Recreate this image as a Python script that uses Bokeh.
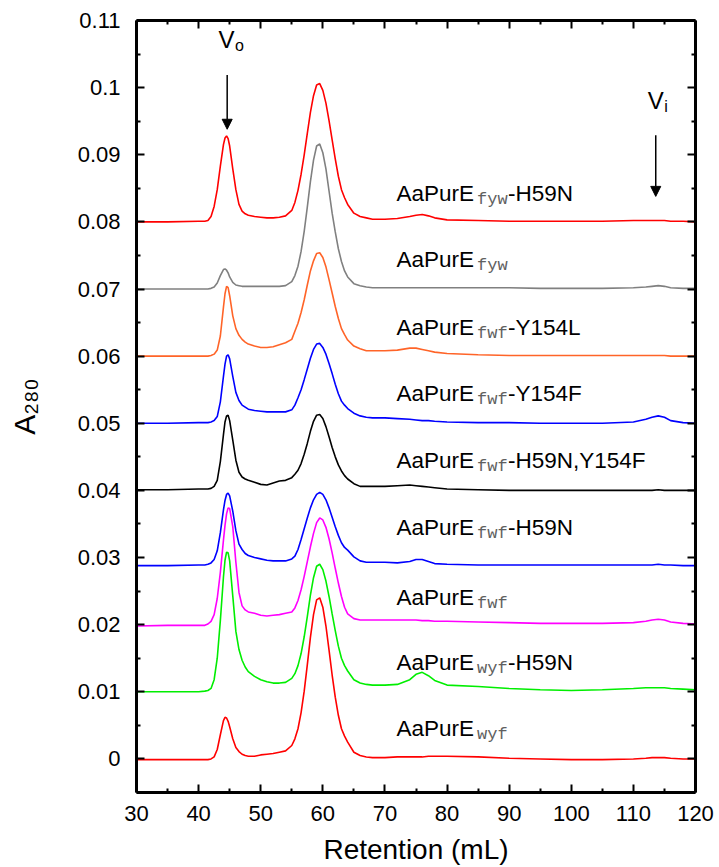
import math
from bokeh.plotting import figure
from bokeh.models import (Range1d, FixedTicker, LinearAxis, CustomJSTickFormatter,
                          Label, Arrow, NormalHead, ColumnDataSource)
from bokeh.core.properties import value
from bokeh.embed import file_html
from bokeh.resources import INLINE

# ---------------- data ----------------
retention = [30, 35, 40, 41, 41.5, 42, 42.5, 43, 43.5, 44, 44.25, 44.5, 44.75, 45, 45.5, 46, 46.5, 47, 47.5, 48,
             49, 50, 51, 52, 53, 54, 55, 55.5, 56, 56.5, 57, 57.5, 58, 58.5, 59, 59.5, 60, 60.5, 61, 61.5,
             62, 62.5, 63, 63.5, 64, 65, 66, 67, 68, 70, 72, 74, 75, 76, 77, 78, 80, 85, 90, 95,
             100, 105, 110, 112, 113, 114, 115, 116, 118, 120]

a_wyf = [-0.0001, -0.0001, -0.0001, -0.0001, -0.0001, 0.0000, 0.0003, 0.0014, 0.0036, 0.0057, 0.0062, 0.0061, 0.0056, 0.0048, 0.0030, 0.0017, 0.0011, 0.0007, 0.0005, 0.0004,
         0.0004, 0.0006, 0.0007, 0.0008, 0.0010, 0.0012, 0.0020, 0.0030, 0.0045, 0.0069, 0.0101, 0.0140, 0.0181, 0.0215, 0.0237, 0.0240, 0.0226, 0.0198, 0.0162, 0.0125,
         0.0092, 0.0065, 0.0045, 0.0034, 0.0025, 0.0010, 0.0005, 0.0003, 0.0002, 0.0002, 0.0003, 0.0003, 0.0003, 0.0003, 0.0004, 0.0004, 0.0004, 0.0003, 0.0001, 0.0000,
         -0.0001, -0.0001, 0.0000, 0.0001, 0.0002, 0.0002, 0.0002, 0.0001, 0.0000, 0.0000]

a_wyf_h59n = [0.0100, 0.0100, 0.0100, 0.0101, 0.0102, 0.0105, 0.0118, 0.0150, 0.0206, 0.0271, 0.0296, 0.0308, 0.0307, 0.0295, 0.0243, 0.0190, 0.0163, 0.0147, 0.0137, 0.0130,
              0.0123, 0.0118, 0.0115, 0.0113, 0.0113, 0.0114, 0.0120, 0.0127, 0.0139, 0.0157, 0.0182, 0.0212, 0.0244, 0.0270, 0.0287, 0.0290, 0.0282, 0.0265, 0.0242, 0.0216,
              0.0191, 0.0168, 0.0150, 0.0139, 0.0131, 0.0118, 0.0113, 0.0111, 0.0110, 0.0110, 0.0111, 0.0118, 0.0126, 0.0129, 0.0124, 0.0117, 0.0110, 0.0108, 0.0105, 0.0103,
              0.0102, 0.0103, 0.0105, 0.0106, 0.0106, 0.0106, 0.0106, 0.0105, 0.0104, 0.0103]

a_fwf = [0.0198, 0.0199, 0.0199, 0.0199, 0.0201, 0.0205, 0.0215, 0.0239, 0.0278, 0.0326, 0.0348, 0.0365, 0.0374, 0.0373, 0.0346, 0.0293, 0.0248, 0.0228, 0.0222, 0.0219,
         0.0217, 0.0214, 0.0213, 0.0214, 0.0215, 0.0217, 0.0219, 0.0225, 0.0236, 0.0252, 0.0272, 0.0294, 0.0316, 0.0336, 0.0352, 0.0359, 0.0356, 0.0345, 0.0328, 0.0307,
         0.0284, 0.0262, 0.0242, 0.0226, 0.0216, 0.0209, 0.0207, 0.0207, 0.0207, 0.0207, 0.0207, 0.0207, 0.0207, 0.0206, 0.0206, 0.0205, 0.0205, 0.0204, 0.0203, 0.0202,
         0.0202, 0.0202, 0.0203, 0.0205, 0.0207, 0.0208, 0.0207, 0.0204, 0.0202, 0.0201]

a_fwf_h59n = [0.0288, 0.0288, 0.0289, 0.0289, 0.0290, 0.0292, 0.0297, 0.0310, 0.0337, 0.0371, 0.0385, 0.0394, 0.0396, 0.0392, 0.0369, 0.0340, 0.0320, 0.0312, 0.0306, 0.0303,
              0.0300, 0.0298, 0.0296, 0.0295, 0.0295, 0.0295, 0.0298, 0.0302, 0.0312, 0.0327, 0.0343, 0.0359, 0.0374, 0.0386, 0.0394, 0.0397, 0.0394, 0.0386, 0.0374, 0.0360,
              0.0346, 0.0333, 0.0322, 0.0315, 0.0311, 0.0301, 0.0295, 0.0293, 0.0293, 0.0293, 0.0292, 0.0294, 0.0297, 0.0297, 0.0294, 0.0291, 0.0290, 0.0289, 0.0289, 0.0289,
              0.0289, 0.0289, 0.0289, 0.0289, 0.0289, 0.0290, 0.0289, 0.0289, 0.0288, 0.0288]

a_fwf_h59n_y154f = [0.0401, 0.0401, 0.0402, 0.0402, 0.0402, 0.0403, 0.0406, 0.0415, 0.0443, 0.0483, 0.0502, 0.0511, 0.0512, 0.0504, 0.0475, 0.0445, 0.0427, 0.0420, 0.0417, 0.0415,
                    0.0412, 0.0409, 0.0408, 0.0411, 0.0414, 0.0415, 0.0419, 0.0424, 0.0430, 0.0440, 0.0454, 0.0470, 0.0488, 0.0503, 0.0512, 0.0513, 0.0507, 0.0495, 0.0480, 0.0464,
                    0.0450, 0.0438, 0.0429, 0.0422, 0.0417, 0.0410, 0.0406, 0.0406, 0.0406, 0.0406, 0.0407, 0.0408, 0.0407, 0.0406, 0.0405, 0.0404, 0.0402, 0.0401, 0.0400, 0.0400,
                    0.0400, 0.0400, 0.0400, 0.0400, 0.0400, 0.0401, 0.0400, 0.0400, 0.0400, 0.0400]

a_fwf_y154f = [0.0500, 0.0500, 0.0501, 0.0501, 0.0501, 0.0502, 0.0504, 0.0510, 0.0532, 0.0570, 0.0588, 0.0600, 0.0602, 0.0596, 0.0570, 0.0546, 0.0534, 0.0527, 0.0524, 0.0521,
               0.0519, 0.0518, 0.0517, 0.0517, 0.0517, 0.0517, 0.0520, 0.0527, 0.0538, 0.0550, 0.0565, 0.0581, 0.0597, 0.0610, 0.0618, 0.0619, 0.0613, 0.0603, 0.0589, 0.0574,
               0.0558, 0.0544, 0.0533, 0.0527, 0.0522, 0.0515, 0.0511, 0.0509, 0.0508, 0.0508, 0.0507, 0.0506, 0.0505, 0.0504, 0.0504, 0.0503, 0.0502, 0.0501, 0.0501, 0.0500,
               0.0500, 0.0500, 0.0502, 0.0506, 0.0509, 0.0511, 0.0509, 0.0504, 0.0501, 0.0500]

a_fwf_y154l = [0.0600, 0.0600, 0.0600, 0.0600, 0.0600, 0.0601, 0.0603, 0.0609, 0.0630, 0.0673, 0.0693, 0.0704, 0.0702, 0.0690, 0.0660, 0.0641, 0.0631, 0.0625, 0.0621, 0.0618,
               0.0615, 0.0613, 0.0613, 0.0614, 0.0617, 0.0620, 0.0625, 0.0637, 0.0649, 0.0665, 0.0684, 0.0706, 0.0727, 0.0742, 0.0753, 0.0754, 0.0747, 0.0733, 0.0714, 0.0694,
               0.0674, 0.0656, 0.0641, 0.0632, 0.0624, 0.0615, 0.0611, 0.0608, 0.0608, 0.0608, 0.0609, 0.0612, 0.0612, 0.0610, 0.0608, 0.0606, 0.0604, 0.0602, 0.0601, 0.0601,
               0.0601, 0.0601, 0.0601, 0.0601, 0.0601, 0.0601, 0.0601, 0.0600, 0.0600, 0.0600]

a_fyw = [0.0700, 0.0700, 0.0700, 0.0700, 0.0700, 0.0701, 0.0703, 0.0709, 0.0720, 0.0729, 0.0730, 0.0728, 0.0724, 0.0718, 0.0710, 0.0706, 0.0705, 0.0704, 0.0704, 0.0704,
         0.0704, 0.0704, 0.0704, 0.0704, 0.0704, 0.0705, 0.0711, 0.0720, 0.0734, 0.0756, 0.0786, 0.0822, 0.0860, 0.0892, 0.0913, 0.0916, 0.0903, 0.0879, 0.0846, 0.0813,
         0.0785, 0.0760, 0.0741, 0.0727, 0.0718, 0.0708, 0.0705, 0.0703, 0.0702, 0.0702, 0.0702, 0.0702, 0.0702, 0.0702, 0.0702, 0.0702, 0.0702, 0.0702, 0.0702, 0.0701,
         0.0701, 0.0701, 0.0702, 0.0703, 0.0704, 0.0705, 0.0704, 0.0702, 0.0701, 0.0701]

a_fyw_h59n = [0.0800, 0.0800, 0.0801, 0.0801, 0.0802, 0.0808, 0.0823, 0.0848, 0.0883, 0.0915, 0.0925, 0.0928, 0.0924, 0.0913, 0.0879, 0.0848, 0.0826, 0.0816, 0.0812, 0.0810,
              0.0808, 0.0807, 0.0806, 0.0806, 0.0807, 0.0809, 0.0817, 0.0829, 0.0847, 0.0871, 0.0900, 0.0932, 0.0963, 0.0988, 0.1004, 0.1006, 0.0996, 0.0977, 0.0951, 0.0922,
              0.0894, 0.0868, 0.0848, 0.0836, 0.0826, 0.0813, 0.0808, 0.0806, 0.0804, 0.0804, 0.0805, 0.0808, 0.0810, 0.0811, 0.0809, 0.0806, 0.0803, 0.0802, 0.0801, 0.0801,
              0.0801, 0.0801, 0.0802, 0.0802, 0.0802, 0.0802, 0.0802, 0.0801, 0.0801, 0.0800]

series = [a_wyf, a_wyf_h59n, a_fwf, a_fwf_h59n, a_fwf_h59n_y154f, a_fwf_y154f, a_fwf_y154l, a_fyw, a_fyw_h59n]
colors = ["#ff0000", "#00ee00", "#ff00ff", "#0000ff", "#000000", "#0000ff", "#ff6428", "#808080", "#ff0000"]

label_main = ["AaPurE"] * 9
label_sub = ["wyf", "wyf", "fwf", "fwf", "fwf", "fwf", "fwf", "fyw", "fyw"]
label_suffix = ["", "-H59N", "", "-H59N", "-H59N,Y154F", "-Y154F", "-Y154L", "", "-H59N"]
label_x = [71.86] * 9
label_y = [0.0033, 0.0132, 0.0229, 0.0333, 0.0433, 0.0532, 0.0631, 0.0732, 0.0830]

x_ticks = [30, 40, 50, 60, 70, 80, 90, 100, 110, 120]
x_tick_labels = ["30", "40", "50", "60", "70", "80", "90", "100", "110", "120"]
x_minor = [35, 45, 55, 65, 75, 85, 95, 105, 115]
y_ticks = [0, 0.01, 0.02, 0.03, 0.04, 0.05, 0.06, 0.07, 0.08, 0.09, 0.1, 0.11]
y_tick_labels = ["0", "0.01", "0.02", "0.03", "0.04", "0.05", "0.06", "0.07", "0.08", "0.09", "0.1", "0.11"]
y_minor = [-0.005, 0.005, 0.015, 0.025, 0.035, 0.045, 0.055, 0.065, 0.075, 0.085, 0.095, 0.105]

x_title = "Retention (mL)"
y_title = "A\u2082\u2088\u2080"

# markers Vo / Vi : arrow x, arrow top, arrow tip, text x, text baseline
marker_names = ["o", "i"]
marker_x = [44.6, 113.6]
marker_top = [0.1019, 0.0929]
marker_tip = [0.0938, 0.0838]
marker_text_x = [43.2, 112.3]
marker_text_y = [0.1060, 0.0969]

FONT = "Liberation Sans"
TEXT_SHIFT = 8  # px correction of the text baseline

p = figure(width=719, height=867, x_range=Range1d(30, 120), y_range=Range1d(-0.005, 0.11),
           output_backend="svg", toolbar_location=None,
           min_border_left=136, min_border_right=24, min_border_top=20, min_border_bottom=75)
p.xgrid.visible = False
p.ygrid.visible = False
p.outline_line_color = None
p.background_fill_color = "white"
p.border_fill_color = "white"

fmt_js = """
let best = 0; let bd = Infinity;
for (let i = 0; i < tvals.length; i++) { const d = Math.abs(tvals[i] - tick); if (d < bd) { bd = d; best = i; } }
return tlabels[best];
"""

def style_axis(ax, ticks, minor, labels, show):
    ax.ticker = FixedTicker(ticks=ticks, minor_ticks=minor)
    ax.axis_line_width = 3
    ax.axis_line_color = "black"
    ax.major_tick_in = 8
    ax.major_tick_out = 0
    ax.minor_tick_in = 4
    ax.minor_tick_out = 0
    ax.major_tick_line_width = 2
    ax.minor_tick_line_width = 2
    ax.major_tick_line_color = "black"
    ax.minor_tick_line_color = "black"
    ax.major_label_text_font = FONT
    ax.major_label_text_color = "black"
    if show:
        ax.formatter = CustomJSTickFormatter(args=dict(tvals=ticks, tlabels=labels), code=fmt_js)
        ax.major_label_text_font_size = "22px"
    else:
        ax.formatter = CustomJSTickFormatter(code="return ''")
        ax.major_label_text_font_size = "0px"
        ax.major_label_standoff = 0

xb = p.xaxis[0]
yl = p.yaxis[0]
style_axis(xb, x_ticks, x_minor, x_tick_labels, True)
style_axis(yl, y_ticks, y_minor, y_tick_labels, True)
xb.major_label_standoff = 13
yl.major_label_standoff = 16

xb.axis_label = x_title
xb.axis_label_text_font = FONT
xb.axis_label_text_font_size = "28px"
xb.axis_label_text_font_style = "normal"
xb.axis_label_text_color = "black"
xb.axis_label_standoff = 10

yl.axis_label = y_title
yl.axis_label_text_font = FONT
yl.axis_label_text_font_size = "30px"
yl.axis_label_text_font_style = "normal"
yl.axis_label_text_color = "black"
yl.axis_label_standoff = 34

xt = LinearAxis()
style_axis(xt, x_ticks, x_minor, x_tick_labels, False)
p.add_layout(xt, "above")
yr = LinearAxis()
style_axis(yr, y_ticks, y_minor, y_tick_labels, False)
p.add_layout(yr, "right")

for ys, c in zip(series, colors):
    p.line(retention, ys, line_color=c, line_width=1.6)

# curve labels
src = ColumnDataSource(dict(x=label_x, y=label_y, main=label_main, sub=label_sub, suf=label_suffix))
p.text(x="x", y="y", text="main", source=src, y_offset=-TEXT_SHIFT, text_font=value(FONT), text_font_size="22.5px",
       text_baseline="alphabetic", text_align="left", text_color="black")
p.text(x="x", y="y", text="sub", source=src, x_offset=80.5, y_offset=6 - TEXT_SHIFT, text_font=value("Liberation Mono"),
       text_font_size="17px", text_baseline="alphabetic", text_align="left", text_color="#606060")
p.text(x="x", y="y", text="suf", source=src, x_offset=111.5, y_offset=-TEXT_SHIFT, text_font=value(FONT),
       text_font_size="22.5px", text_baseline="alphabetic", text_align="left", text_color="black")

# Vo / Vi markers
for name, ax_, top, tip, tx, ty in zip(marker_names, marker_x, marker_top, marker_tip, marker_text_x, marker_text_y):
    p.add_layout(Arrow(x_start=ax_, y_start=top, x_end=ax_, y_end=tip, line_width=1.5, line_color="black",
                       end=NormalHead(size=10, fill_color="black", line_color="black", line_width=1)))
    p.add_layout(Label(x=tx, y=ty, y_offset=TEXT_SHIFT, text="V", text_font=FONT, text_font_size="24px",
                       text_baseline="alphabetic", text_align="left", text_color="black"))
    p.add_layout(Label(x=tx, y=ty, x_offset=16.5, y_offset=TEXT_SHIFT - 6, text=name, text_font=FONT,
                       text_font_size="16px", text_baseline="alphabetic", text_align="left", text_color="black"))

open("out.html", "w").write(file_html(p, INLINE))
